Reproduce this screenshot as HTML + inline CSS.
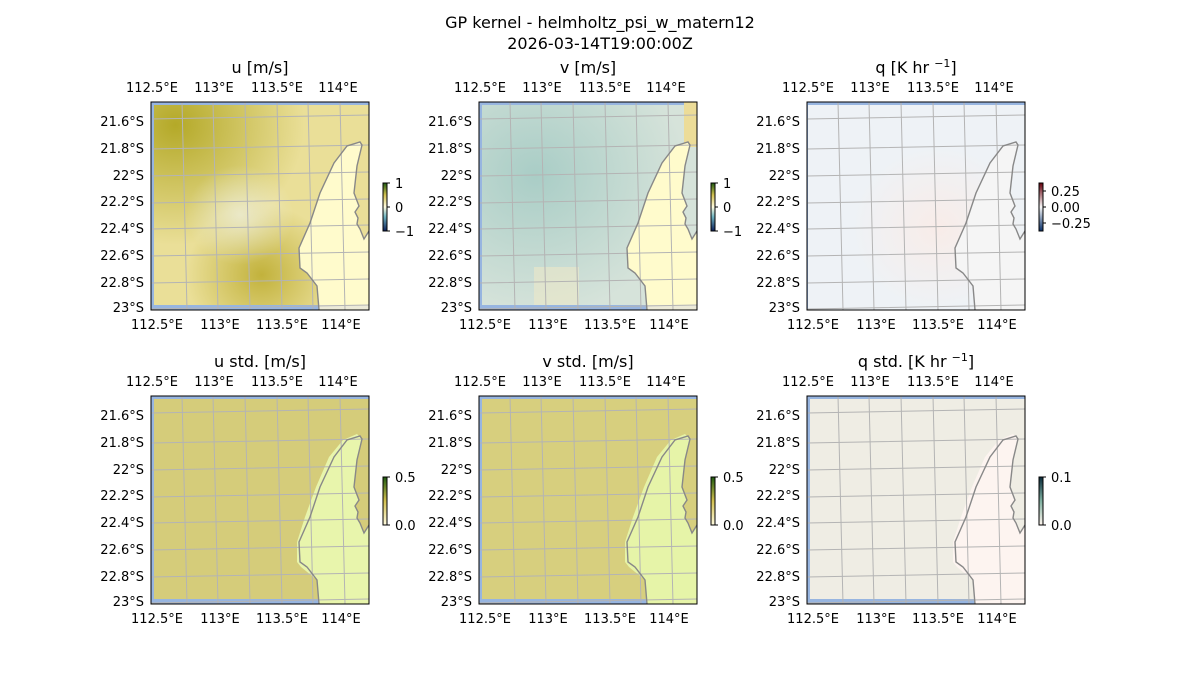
<!DOCTYPE html>
<html><head><meta charset="utf-8"><style>
html,body{margin:0;padding:0;background:#fff;}
svg{display:block;font-family:"DejaVu Sans","Liberation Sans",sans-serif;}
</style></head><body>
<svg width="1200" height="700" viewBox="0 0 1200 700" xmlns="http://www.w3.org/2000/svg">
<defs>
<clipPath id="cp"><rect x="0" y="0" width="218" height="208"/></clipPath>
<g id="grid" fill="none" stroke="#b4b4b4" stroke-width="1">
<path d="M31,0L36,208M62,0L67,208M94,0L99,208M126,0L131,208M157,0L162,208M189,0L194,208"/>
<path d="M0,17L218,13M0,47L218,43M0,74L218,70M0,101L218,97M0,127L218,123M0,154L218,150M0,181L218,177M0,207L218,203"/>
</g>
<path id="coast" fill="none" stroke="#888" stroke-width="1.4" d="M168,208L166,184L156,171L149,166L148,146L159,121L169,91L183,61L196,44L209,40L211,43L206,64L203,91L208,104L204,110L207,116L206,122L209,127L213,137L218,129"/>
<path id="land" d="M168,208L166,184L156,171L149,166L148,146L159,121L169,91L183,61L196,44L209,40L211,43L206,64L203,91L208,104L204,110L207,116L206,122L209,127L213,137L218,129L218,208Z"/>
<path id="landstd" d="M168,208L166,184L150,171L146,166L146,146L154,121L165,91L178,61L192,44L206,38L211,43L206,64L203,91L208,104L204,110L207,116L206,122L209,127L213,137L218,129L218,208Z"/>
<g id="sea"><rect x="0" y="0" width="218" height="208" fill="#97b5e0"/></g>
<radialGradient id="u1" cx="0.1" cy="0.1" r="0.6"><stop offset="0" stop-color="#b4a928"/><stop offset="1" stop-color="#b4a928" stop-opacity="0"/></radialGradient>
<radialGradient id="u2" cx="0.5" cy="0.85" r="0.35"><stop offset="0" stop-color="#c2b23c"/><stop offset="1" stop-color="#c2b23c" stop-opacity="0"/></radialGradient>
<radialGradient id="u3" cx="0.4" cy="0.55" r="0.25"><stop offset="0" stop-color="#eef0e4" stop-opacity="0.7"/><stop offset="1" stop-color="#eef0e4" stop-opacity="0"/></radialGradient>
<radialGradient id="v1" cx="0.25" cy="0.35" r="0.7"><stop offset="0" stop-color="#a9cdc6"/><stop offset="1" stop-color="#d6e3da"/></radialGradient>
<radialGradient id="q1" cx="0.6" cy="0.6" r="0.4"><stop offset="0" stop-color="#f8ece8"/><stop offset="1" stop-color="#eef2f6"/></radialGradient>
<linearGradient id="bar1" x1="0" y1="1" x2="0" y2="0"><stop offset="0" stop-color="#0a1f5a"/><stop offset="0.3" stop-color="#6fb3c0"/><stop offset="0.5" stop-color="#fffbe0"/><stop offset="0.75" stop-color="#d2c050"/><stop offset="1" stop-color="#1e5a10"/></linearGradient>
<linearGradient id="bar2" x1="0" y1="1" x2="0" y2="0"><stop offset="0" stop-color="#08306b"/><stop offset="0.5" stop-color="#f7f7f7"/><stop offset="1" stop-color="#67000d"/></linearGradient>
<linearGradient id="bar3" x1="0" y1="1" x2="0" y2="0"><stop offset="0" stop-color="#fffbe0"/><stop offset="0.5" stop-color="#d2c050"/><stop offset="1" stop-color="#1e5a10"/></linearGradient>
<linearGradient id="bar4" x1="0" y1="1" x2="0" y2="0"><stop offset="0" stop-color="#fff5ee"/><stop offset="0.5" stop-color="#7fb0a0"/><stop offset="1" stop-color="#0a2a3a"/></linearGradient>
</defs>

<g font-size="16" text-anchor="middle" fill="#000">
<text x="600" y="28">GP kernel - helmholtz_psi_w_matern12</text>
<text x="600" y="49">2026-03-14T19:00:00Z</text>
<text x="260" y="73">u [m/s]</text>
<text x="588" y="73">v [m/s]</text>
<text x="916" y="73">q [K hr <tspan font-size="11" dy="-6">−1</tspan><tspan dy="6">]</tspan></text>
<text x="260" y="367">u std. [m/s]</text>
<text x="588" y="367">v std. [m/s]</text>
<text x="916" y="367">q std. [K hr <tspan font-size="11" dy="-6">−1</tspan><tspan dy="6">]</tspan></text>
</g>

<!-- Panel 1: u -->
<g transform="translate(151,102)">
<g clip-path="url(#cp)">
<use href="#sea"/>
<rect x="3" y="3" width="215" height="200" fill="#eadf98"/>
<rect x="3" y="3" width="215" height="200" fill="url(#u1)"/>
<rect x="3" y="3" width="215" height="200" fill="url(#u2)"/>
<rect x="3" y="3" width="215" height="200" fill="url(#u3)"/>
<use href="#land" fill="#fffbcc"/>
<rect x="168" y="203" width="50" height="5" fill="#ecead8"/>
<use href="#grid"/><use href="#coast"/>
</g>
<rect x="0" y="0" width="218" height="208" fill="none" stroke="#000" stroke-width="1"/>
</g>
<!-- Panel 2: v -->
<g transform="translate(479,102)">
<g clip-path="url(#cp)">
<use href="#sea"/>
<rect x="3" y="3" width="215" height="200" fill="url(#v1)"/>
<rect x="55" y="165" width="45" height="38" fill="#ece8c8" opacity="0.6"/>
<rect x="205" y="0" width="13" height="45" fill="#ecdc98"/>
<use href="#land" fill="#fffbcc"/>
<rect x="168" y="203" width="50" height="5" fill="#ecead8"/>
<use href="#grid"/><use href="#coast"/>
</g>
<rect x="0" y="0" width="218" height="208" fill="none" stroke="#000" stroke-width="1"/>
</g>
<!-- Panel 3: q -->
<g transform="translate(807,102)">
<g clip-path="url(#cp)">
<use href="#sea"/>
<rect x="1" y="3" width="217" height="205" fill="url(#q1)"/>
<use href="#land" fill="#f5f5f5"/>
<use href="#grid"/><use href="#coast"/>
</g>
<rect x="0" y="0" width="218" height="208" fill="none" stroke="#000" stroke-width="1"/>
</g>
<!-- Panel 4: u std -->
<g transform="translate(151,396)">
<g clip-path="url(#cp)">
<use href="#sea"/>
<rect x="3" y="3" width="215" height="200" fill="#d5cc7a"/>
<use href="#landstd" fill="#e8f5ac"/>
<use href="#grid"/><use href="#coast"/>
</g>
<rect x="0" y="0" width="218" height="208" fill="none" stroke="#000" stroke-width="1"/>
</g>
<!-- Panel 5: v std -->
<g transform="translate(479,396)">
<g clip-path="url(#cp)">
<use href="#sea"/>
<rect x="3" y="3" width="215" height="200" fill="#d7cf7e"/>
<use href="#landstd" fill="#e6f4a8"/>
<use href="#grid"/><use href="#coast"/>
</g>
<rect x="0" y="0" width="218" height="208" fill="none" stroke="#000" stroke-width="1"/>
</g>
<!-- Panel 6: q std -->
<g transform="translate(807,396)">
<g clip-path="url(#cp)">
<use href="#sea"/>
<rect x="3" y="3" width="215" height="200" fill="#efede4"/>
<use href="#landstd" fill="#fdf4f0"/>
<use href="#grid"/><use href="#coast"/>
</g>
<rect x="0" y="0" width="218" height="208" fill="none" stroke="#000" stroke-width="1"/>
</g>

<!-- tick labels -->
<g font-size="13" fill="#000" text-anchor="middle">
<g id="topl">
<text x="152" y="92">112.5°E</text><text x="214" y="92">113°E</text><text x="277" y="92">113.5°E</text><text x="338" y="92">114°E</text>
<text x="157" y="329">112.5°E</text><text x="220" y="329">113°E</text><text x="282" y="329">113.5°E</text><text x="341" y="329">114°E</text>
</g>
<use href="#topl" x="328"/><use href="#topl" x="656"/>
<use href="#topl" y="294"/><use href="#topl" x="328" y="294"/><use href="#topl" x="656" y="294"/>
</g>
<g font-size="13" fill="#000" text-anchor="end">
<g id="leftl">
<text x="144" y="126">21.6°S</text><text x="144" y="153">21.8°S</text><text x="144" y="180">22°S</text><text x="144" y="206">22.2°S</text><text x="144" y="233">22.4°S</text><text x="144" y="260">22.6°S</text><text x="144" y="287">22.8°S</text><text x="144" y="312">23°S</text>
</g>
<use href="#leftl" x="328"/><use href="#leftl" x="656"/>
<use href="#leftl" y="294"/><use href="#leftl" x="328" y="294"/><use href="#leftl" x="656" y="294"/>
</g>

<!-- colorbars -->
<g font-size="13" fill="#000">
<rect x="383" y="183" width="4" height="48" fill="url(#bar1)" stroke="#000" stroke-width="1"/>
<path d="M387,183h3M387,207h3M387,231h3" stroke="#000"/>
<text x="395" y="188">1</text><text x="395" y="212">0</text><text x="395" y="236">−1</text>
<rect x="711" y="183" width="4" height="48" fill="url(#bar1)" stroke="#000" stroke-width="1"/>
<path d="M715,183h3M715,207h3M715,231h3" stroke="#000"/>
<text x="723" y="188">1</text><text x="723" y="212">0</text><text x="723" y="236">−1</text>
<rect x="1039" y="183" width="4" height="48" fill="url(#bar2)" stroke="#000" stroke-width="1"/>
<path d="M1043,191h3M1043,207h3M1043,223h3" stroke="#000"/>
<text x="1051" y="196">0.25</text><text x="1051" y="212">0.00</text><text x="1051" y="228">−0.25</text>
<rect x="383" y="477" width="4" height="48" fill="url(#bar3)" stroke="#000" stroke-width="1"/>
<path d="M387,477h3M387,525h3" stroke="#000"/>
<text x="395" y="482">0.5</text><text x="395" y="530">0.0</text>
<rect x="711" y="477" width="4" height="48" fill="url(#bar3)" stroke="#000" stroke-width="1"/>
<path d="M715,477h3M715,525h3" stroke="#000"/>
<text x="723" y="482">0.5</text><text x="723" y="530">0.0</text>
<rect x="1039" y="477" width="4" height="48" fill="url(#bar4)" stroke="#000" stroke-width="1"/>
<path d="M1043,477h3M1043,525h3" stroke="#000"/>
<text x="1051" y="482">0.1</text><text x="1051" y="530">0.0</text>
</g>
</svg>
</body></html>
